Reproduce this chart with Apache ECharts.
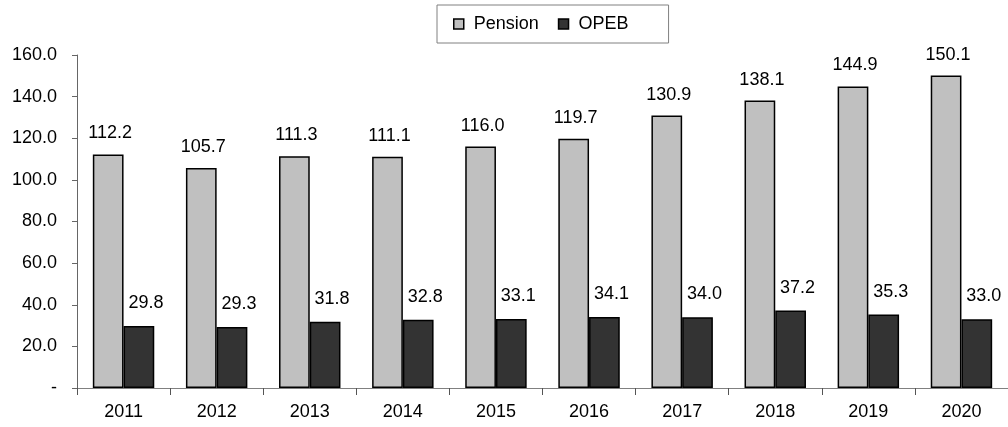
<!DOCTYPE html>
<html>
<head>
<meta charset="utf-8">
<script src="https://cdn.jsdelivr.net/npm/echarts@6/dist/echarts.min.js"></script>
<style>
html,body{margin:0;padding:0;background:#fff;}
#chart{width:1008px;height:427px;}
</style>
</head>
<body>
<div id="chart"></div>
<script>
var categories = ['2011','2012','2013','2014','2015','2016','2017','2018','2019','2020'];
var pension = [112.2,105.7,111.3,111.1,116.0,119.7,130.9,138.1,144.9,150.1];
var opeb = [29.8,29.3,31.8,32.8,33.1,34.1,34.0,37.2,35.3,33.0];
var yTicks = {min:0, max:160, interval:20};

var FONT = '"Liberation Sans", Arial, sans-serif';
var chart = echarts.init(document.getElementById('chart'), null, {renderer:'canvas'});
chart.setOption({
  animation:false,
  textStyle:{fontFamily:FONT},
  legend:{
    data:['Pension','OPEB'],
    left:437, top:5,
    padding:[10,40,10,16],
    borderColor:'#808080', borderWidth:1,
    itemWidth:10, itemHeight:10, itemGap:19,
    icon:'rect',
    itemStyle:{borderColor:'#000', borderWidth:1.5},
    textStyle:{fontFamily:FONT, fontSize:18, color:'#000', padding:[0,0,0,5]}
  },
  grid:{left:77, right:-6, top:55, bottom:39},
  xAxis:{
    type:'category', data:categories,
    axisLine:{lineStyle:{color:'#808080', width:1}},
    axisTick:{show:true, length:7, alignWithLabel:false, lineStyle:{color:'#555'}},
    axisLabel:{fontFamily:FONT, fontSize:18, color:'#000', margin:15}
  },
  yAxis:{
    type:'value', min:yTicks.min, max:yTicks.max, interval:yTicks.interval,
    axisLine:{show:true, lineStyle:{color:'#666', width:1}},
    axisTick:{show:true, length:5, lineStyle:{color:'#666'}},
    splitLine:{show:false},
    axisLabel:{fontFamily:FONT, fontSize:18, color:'#000', margin:20,
      formatter:function(v){return v===0?'-':v.toFixed(1);}}
  },
  series:[
    {
      name:'Pension', type:'bar', data:pension, z:3,
      barGap:'0%', barCategoryGap:'34%',
      itemStyle:{color:'#C0C0C0', borderColor:'#000', borderWidth:1.5},
      label:{show:true, position:'top', distance:12, offset:[2,0],
        fontFamily:FONT, fontSize:18, color:'#000',
        formatter:function(p){return p.value.toFixed(1);}}
    },
    {
      name:'OPEB', type:'bar', data:opeb, z:2,
      barGap:'0%', barCategoryGap:'34%',
      itemStyle:{color:'#333333', borderColor:'#000', borderWidth:1.5},
      label:{show:true, position:'top', distance:14, offset:[7,0],
        fontFamily:FONT, fontSize:18, color:'#000',
        formatter:function(p){return p.value.toFixed(1);}}
    }
  ]
});
</script>
</body>
</html>
